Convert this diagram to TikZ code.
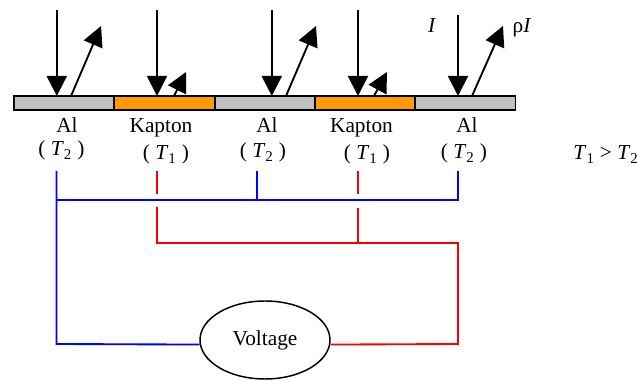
\documentclass[tikz,border=0pt]{standalone}
\usepackage{fontspec}
\setmainfont{Liberation Serif}
\usepackage{tikz}
\usetikzlibrary{positioning,arrows.meta,shapes.geometric}
\usepackage{xcolor}
\definecolor{albar}{RGB}{192,192,192}
\definecolor{kapbar}{RGB}{255,153,0}
\newcommand{\tvar}[1]{\textit{T}\textsubscript{#1}}
\tikzset{
  strip/.style={draw,line width=1.2pt,minimum width=75pt,minimum height=10.5pt,inner sep=0pt},
  lab/.style={font=\fontsize{16}{18}\selectfont,inner sep=0pt,anchor=base},
  beam/.style={->,line width=1.4pt},
  bluewire/.style={blue,line width=1.4pt},
  redwire/.style={red,line width=1.4pt}
}
\begin{document}
\begin{tikzpicture}[x=0.75pt,y=-0.75pt,>={Stealth[length=15pt,width=15pt,inset=0pt]}]
\useasboundingbox (0,0) rectangle (637,381);
\node[strip,fill=albar] (a1) at (64,103) {};
\node[strip,fill=kapbar] (k1) at (164.5,103) {};
\node[strip,fill=albar] (a2) at (265,103) {};
\node[strip,fill=kapbar] (k2) at (365,103) {};
\node[strip,fill=albar] (a3) at (465.5,103) {};
% labels under the strips
\node[lab] (la1) at (67,132.5) {Al};
\node[lab] (lk1) at (161,132.5) {Kapton};
\node[lab] (la2) at (267,132.5) {Al};
\node[lab] (lk2) at (361.5,132.5) {Kapton};
\node[lab] (la3) at (467,132.5) {Al};
\node[lab] (ta1) at (61.5,156) {( \tvar{2} )};
\node[lab] (tk1) at (166,160) {( \tvar{1} )};
\node[lab] (ta2) at (263,158) {( \tvar{2} )};
\node[lab] (tk2) at (367,160) {( \tvar{1} )};
\node[lab] (ta3) at (464,159) {( \tvar{2} )};
\node[lab] (tt) at (606,160) {\tvar{1} > \tvar{2}};
\node[lab] (ii) at (432,33) {\textit{I}};
\node[lab] (ri) at (522,33) {ρ\textit{I}};
\node[ellipse,draw,line width=1.1pt,minimum width=97.5pt,minimum height=58.5pt,inner sep=0pt,font=\fontsize{16}{18}\selectfont] (volt) at (265,340) {Voltage};
% beams
\coordinate (s1) at (56.8,10);
\coordinate (h1) at (56.8,96);
\coordinate (s2) at (157,10);
\coordinate (h2) at (157,96);
\coordinate (s3) at (271.8,10);
\coordinate (h3) at (271.8,96);
\coordinate (s4) at (358,10);
\coordinate (h4) at (358,96);
\coordinate (s5) at (458,15);
\coordinate (h5) at (458,96);
\coordinate (r1) at (71,96);
\coordinate (e1) at (101,26);
\coordinate (r2) at (174,96);
\coordinate (e2) at (186,72);
\coordinate (r3) at (286,96);
\coordinate (e3) at (316,26);
\coordinate (r4) at (374,96);
\coordinate (e4) at (387,72);
\coordinate (r5) at (472,96);
\coordinate (e5) at (503,26);
\draw[beam] (s1) -- (h1);
\draw[beam] (s2) -- (h2);
\draw[beam] (s3) -- (h3);
\draw[beam] (s4) -- (h4);
\draw[beam] (s5) -- (h5);
\draw[beam] (r1) -- (e1);
\draw[beam] (r2) -- (e2);
\draw[beam] (r3) -- (e3);
\draw[beam] (r4) -- (e4);
\draw[beam] (r5) -- (e5);
% wires
\coordinate (b1) at (56.5,171);
\coordinate (b2) at (257,171);
\coordinate (b3) at (458,171);
\coordinate (b4) at (56.5,200);
\coordinate (b5) at (257,200);
\coordinate (b6) at (458,200);
\coordinate (b7) at (56.5,344);
\coordinate (c1) at (157,171);
\coordinate (c2) at (157,194);
\coordinate (c3) at (157,207);
\coordinate (c4) at (157,243);
\coordinate (c5) at (358,171);
\coordinate (c6) at (358,194);
\coordinate (c7) at (358,208);
\coordinate (c8) at (358,243);
\coordinate (c9) at (458,243);
\coordinate (c10) at (458,344);
\draw[bluewire] (b1) -- (b7) -- (volt.184);
\draw[bluewire] (b4) -- (b6) -- (b3);
\draw[bluewire] (b2) -- (b5);
\draw[redwire] (c1) -- (c2);
\draw[redwire] (c3) -- (c4) -- (c9) -- (c10) -- (volt.-4);
\draw[redwire] (c5) -- (c6);
\draw[redwire] (c7) -- (c8);
\end{tikzpicture}
\end{document}
